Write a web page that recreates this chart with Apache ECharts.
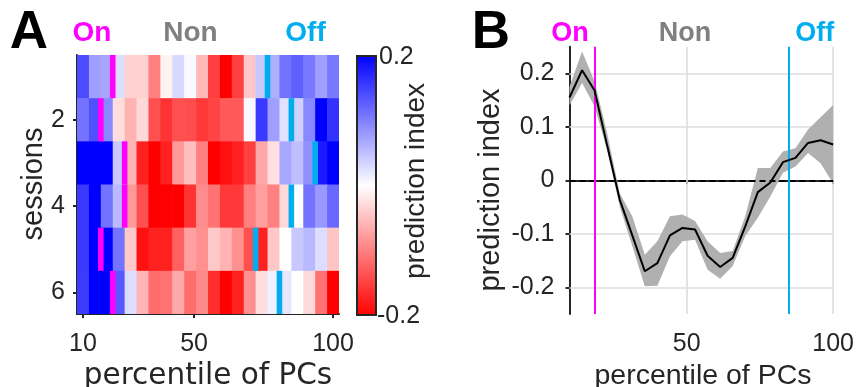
<!DOCTYPE html>
<html>
<head>
<meta charset="utf-8">
<script src="https://cdn.jsdelivr.net/npm/echarts@6/dist/echarts.min.js"></script>
<style>
html,body{margin:0;padding:0;background:#fff;}
#chart{width:857px;height:387px;}
</style>
</head>
<body>
<div id="chart"></div>
<script>
// ---------- Data ----------
// percentile of PCs (column centres)
const percentiles = [10, 14.29, 18.57, 22.86, 27.14, 31.43, 35.71, 40, 44.29, 48.57, 52.86,
  57.14, 61.43, 65.71, 70, 74.29, 78.57, 82.86, 87.14, 91.43, 95.71, 100];
const sessions = [1, 2, 3, 4, 5, 6];
// prediction index per session (panel A)
const session1 = [0.14, 0.075, 0.07, 0.027, -0.037, -0.037, -0.1, -0.01, 0.03, 0.005, -0.055, -0.15, -0.2, -0.15, -0.043, 0.043, 0.063, 0.11, 0.125, 0.105, 0.075, 0.105];
const session2 = [0.11, 0.137, 0.093, -0.027, -0.06, -0.03, -0.137, -0.16, -0.137, -0.14, -0.155, -0.147, -0.13, -0.13, 0.005, 0.155, 0.075, 0.024, 0.037, 0.093, 0.2, 0.16];
const session3 = [0.2, 0.2, 0.2, 0.043, -0.06, -0.175, -0.2, -0.175, -0.08, -0.05, -0.1, -0.2, -0.187, -0.175, -0.15, -0.068, -0.024, 0.068, 0.05, 0.087, 0.18, 0.2];
const session4 = [0.155, 0.2, 0.11, 0.055, -0.08, -0.137, -0.2, -0.2, -0.2, -0.16, -0.09, -0.11, -0.155, -0.155, -0.1, -0.075, -0.1, -0.03, 0, 0.11, 0.08, 0.118];
const session5 = [0.155, 0.2, 0.2, 0.11, -0.043, -0.187, -0.175, -0.175, -0.125, -0.075, -0.087, -0.043, -0.06, -0.087, -0.137, -0.175, -0.043, 0, 0.043, 0.055, 0.027, -0.046];
const session6 = [0.153, 0.2, 0.2, 0.13, 0.027, -0.058, -0.115, -0.11, -0.068, -0.115, -0.093, -0.165, -0.2, -0.175, -0.087, -0.027, 0.012, 0.02, 0, -0.03, -0.11, -0.2];
// On / Off boundaries per session (percentile)
const onBoundary  = [20.71, 16.43, 25.0, 25.0, 16.43, 20.71];
const offBoundary = [76.43, 85.0, 93.57, 85.0, 72.14, 80.71];
// panel B: mean prediction index and error band
const meanPI  = [0.155, 0.206, 0.168, 0.065, -0.036, -0.103, -0.170, -0.155, -0.103, -0.089, -0.092, -0.141, -0.162, -0.145, -0.086, -0.022, -0.004, 0.034, 0.042, 0.070, 0.075, 0.067];
const upperPI = [0.175, 0.241, 0.185, 0.088, -0.024, -0.067, -0.139, -0.114, -0.067, -0.064, -0.076, -0.114, -0.136, -0.132, -0.067, 0.023, 0.023, 0.054, 0.060, 0.095, 0.118, 0.141];
const lowerPI = [0.140, 0.182, 0.138, 0.057, -0.049, -0.123, -0.198, -0.197, -0.142, -0.114, -0.111, -0.167, -0.184, -0.160, -0.104, -0.070, -0.030, 0.014, 0.026, 0.051, 0.032, -0.006];
const onLineB = 18.7;
const offLineB = 84.9;
// tick labels
const xTicksA = [10, 50, 100];
const yTicksA = [2, 4, 6];
const xTicksB = [50, 100];
const yTicksB = [-0.2, -0.1, 0, 0.1, 0.2];
const gridYB = [-0.2, -0.1, 0.1, 0.2];
const gridXB = [50, 100];

// ---------- Build ----------
const sessionRows = [session1, session2, session3, session4, session5, session6];
const heatData = [];
sessionRows.forEach((row, si) => {
  row.forEach((v, ci) => heatData.push([percentiles[ci], sessions[si], v]));
});
const halfW = (percentiles[1] - percentiles[0]) / 2;
const onData = onBoundary.map((p, i) => [p, sessions[i]]);
const offData = offBoundary.map((p, i) => [p, sessions[i]]);
const bandData = percentiles.map((p, i) => [p, lowerPI[i], upperPI[i]]);

const MAG = '#ff00ff', CYAN = '#00aeef', AX = '#262626';
const SANS = 'Liberation Sans, Arial, sans-serif';

function cellRender(params, api) {
  const x = api.value(0), y = api.value(1);
  const p0 = api.coord([x - halfW, y - 0.5]);
  const p1 = api.coord([x + halfW, y + 0.5]);
  return {
    type: 'rect',
    shape: { x: Math.min(p0[0], p1[0]), y: Math.min(p0[1], p1[1]),
             width: Math.abs(p1[0] - p0[0]) + 0.6, height: Math.abs(p1[1] - p0[1]) + 0.6 },
    style: { fill: api.visual('color') }
  };
}
function markerRender(color) {
  return function (params, api) {
    const x = api.value(0), y = api.value(1);
    const p0 = api.coord([x, y - 0.5]);
    const p1 = api.coord([x, y + 0.5]);
    return {
      type: 'rect',
      shape: { x: p0[0] - 2.8, y: Math.min(p0[1], p1[1]), width: 5.6, height: Math.abs(p1[1] - p0[1]) },
      style: { fill: color }
    };
  };
}
function bandRender(params, api) {
  if (params.dataIndex !== 0) return null;
  const pts = [];
  for (let i = 0; i < bandData.length; i++) pts.push(api.coord([bandData[i][0], bandData[i][2]]));
  for (let i = bandData.length - 1; i >= 0; i--) pts.push(api.coord([bandData[i][0], bandData[i][1]]));
  return { type: 'polygon', shape: { points: pts }, style: { fill: '#b0b0b0' } };
}

const axisCommon = {
  axisLine: { show: true, lineStyle: { color: AX, width: 2 } },
  splitLine: { show: false },
};

const chart = echarts.init(document.getElementById('chart'), null, { renderer: 'canvas' });
chart.setOption({
  animation: false,
  backgroundColor: '#fff',
  grid: [
    { left: 77, top: 55, width: 262, height: 259 },
    { left: 569.5, top: 46.7, width: 267.5, height: 267.3 }
  ],
  xAxis: [
    Object.assign({}, axisCommon, {
      gridIndex: 0, type: 'value', min: 7.857, max: 102.143,
      axisTick: { show: true, customValues: xTicksA, length: 4, lineStyle: { color: AX, width: 2 } },
      axisLabel: { customValues: xTicksA, fontSize: 25, color: AX, fontFamily: SANS, margin: 18 }
    }),
    Object.assign({}, axisCommon, {
      gridIndex: 1, type: 'value', min: 10, max: 100,
      axisTick: { show: true, customValues: xTicksB, length: 4, lineStyle: { color: AX, width: 2 } },
      axisLabel: { customValues: xTicksB, fontSize: 25, color: AX, fontFamily: SANS, margin: 18 }
    })
  ],
  yAxis: [
    Object.assign({}, axisCommon, {
      gridIndex: 0, type: 'value', min: 0.5, max: 6.5, inverse: true,
      axisTick: { show: true, customValues: yTicksA, length: 4, lineStyle: { color: AX, width: 2 } },
      axisLabel: { customValues: yTicksA, fontSize: 25, color: AX, fontFamily: SANS, margin: 12 }
    }),
    Object.assign({}, axisCommon, {
      gridIndex: 1, type: 'value', min: -0.25, max: 0.25,
      axisTick: { show: true, customValues: yTicksB, length: 4, lineStyle: { color: AX, width: 2 } },
      axisLabel: { customValues: yTicksB, fontSize: 25, color: AX, fontFamily: SANS, margin: 15,
        formatter: v => (Math.abs(v) < 1e-9 ? '0' : String(Math.round(v * 10) / 10)) }
    })
  ],
  visualMap: {
    type: 'continuous', show: false, seriesIndex: 0, dimension: 2,
    min: -0.2, max: 0.2,
    inRange: { color: ['#ff0000', '#ffffff', '#0000ff'] }
  },
  series: [
    { type: 'custom', xAxisIndex: 0, yAxisIndex: 0, data: heatData, renderItem: cellRender, clip: true, z: 1 },
    { type: 'custom', xAxisIndex: 0, yAxisIndex: 0, data: onData, renderItem: markerRender(MAG), z: 3 },
    { type: 'custom', xAxisIndex: 0, yAxisIndex: 0, data: offData, renderItem: markerRender(CYAN), z: 3 },
    {
      type: 'line', xAxisIndex: 1, yAxisIndex: 1,
      data: percentiles.map((p, i) => [p, meanPI[i]]),
      showSymbol: false, symbol: 'none', lineStyle: { width: 0, opacity: 0 }, z: 1,
      markLine: {
        silent: true, symbol: 'none', z: 1, animation: false,
        label: { show: false },
        lineStyle: { color: '#dedede', type: 'solid', width: 1.6 },
        data: gridYB.map(v => ({ yAxis: v })).concat(gridXB.map(v => ({ xAxis: v })))
      }
    },
    {
      type: 'custom', xAxisIndex: 1, yAxisIndex: 1, data: bandData,
      encode: { x: 0, y: [1, 2] }, renderItem: bandRender, z: 2
    },
    {
      type: 'line', xAxisIndex: 1, yAxisIndex: 1,
      data: percentiles.map((p, i) => [p, meanPI[i]]),
      showSymbol: false, symbol: 'none', lineStyle: { color: '#000', width: 2 }, z: 5,
      markLine: {
        silent: true, symbol: 'none', z: 4, animation: false,
        label: { show: false },
        data: [
          { yAxis: 0, lineStyle: { color: '#000', type: [6, 4], width: 1.8 } },
          { xAxis: onLineB, lineStyle: { color: MAG, type: 'solid', width: 2 } },
          { xAxis: offLineB, lineStyle: { color: CYAN, type: 'solid', width: 2 } }
        ]
      }
    }
  ],
  graphic: [
    // colorbar
    { type: 'rect', left: 356, top: 55, shape: { width: 19, height: 259 },
      style: { fill: new echarts.graphic.LinearGradient(0, 0, 0, 1, [
        { offset: 0, color: '#0000ff' }, { offset: 0.5, color: '#ffffff' }, { offset: 1, color: '#ff0000' }]),
        stroke: AX, lineWidth: 2 }, z: 10 },
    { type: 'text', x: 379, y: 57, style: { text: '0.2', font: '25px ' + SANS, fill: AX, textAlign: 'left', textVerticalAlign: 'middle' } },
    { type: 'text', x: 377, y: 316, style: { text: '-0.2', font: '25px ' + SANS, fill: AX, textAlign: 'left', textVerticalAlign: 'middle' } },
    { type: 'text', x: 416, y: 181, rotation: Math.PI / 2, style: { text: 'prediction index', font: '28px ' + SANS, fill: AX, textAlign: 'center', textVerticalAlign: 'middle' } },
    // axis names
    { type: 'text', x: 34, y: 184, rotation: Math.PI / 2, style: { text: 'sessions', font: '29px ' + SANS, fill: AX, textAlign: 'center', textVerticalAlign: 'middle' } },
    { type: 'text', x: 208, y: 376, style: { text: 'percentile of PCs', font: '29.5px DejaVu Sans, sans-serif', fill: AX, textAlign: 'center', textVerticalAlign: 'middle' } },
    { type: 'text', x: 703, y: 376, style: { text: 'percentile of PCs', font: '28.5px ' + SANS, fill: AX, textAlign: 'center', textVerticalAlign: 'middle' } },
    { type: 'text', x: 491, y: 190, rotation: Math.PI / 2, style: { text: 'prediction index', font: '29px ' + SANS, fill: AX, textAlign: 'center', textVerticalAlign: 'middle' } },
    // panel letters
    { type: 'text', x: 29, y: 33, style: { text: 'A', font: 'bold 53px ' + SANS, fill: '#000', textAlign: 'center', textVerticalAlign: 'middle' } },
    { type: 'text', x: 491, y: 33, style: { text: 'B', font: 'bold 53px ' + SANS, fill: '#000', textAlign: 'center', textVerticalAlign: 'middle' } },
    // On / Non / Off labels
    { type: 'text', x: 92, y: 33.5, style: { text: 'On', font: 'bold 28px ' + SANS, fill: MAG, textAlign: 'center', textVerticalAlign: 'middle' } },
    { type: 'text', x: 190.5, y: 33.5, style: { text: 'Non', font: 'bold 28px ' + SANS, fill: '#808080', textAlign: 'center', textVerticalAlign: 'middle' } },
    { type: 'text', x: 305.5, y: 33.5, style: { text: 'Off', font: 'bold 28px ' + SANS, fill: CYAN, textAlign: 'center', textVerticalAlign: 'middle' } },
    { type: 'text', x: 570, y: 33.5, style: { text: 'On', font: 'bold 27px ' + SANS, fill: MAG, textAlign: 'center', textVerticalAlign: 'middle' } },
    { type: 'text', x: 685, y: 33.5, style: { text: 'Non', font: 'bold 27px ' + SANS, fill: '#808080', textAlign: 'center', textVerticalAlign: 'middle' } },
    { type: 'text', x: 814.7, y: 33.5, style: { text: 'Off', font: 'bold 27px ' + SANS, fill: CYAN, textAlign: 'center', textVerticalAlign: 'middle' } }
  ]
});
</script>
</body>
</html>
